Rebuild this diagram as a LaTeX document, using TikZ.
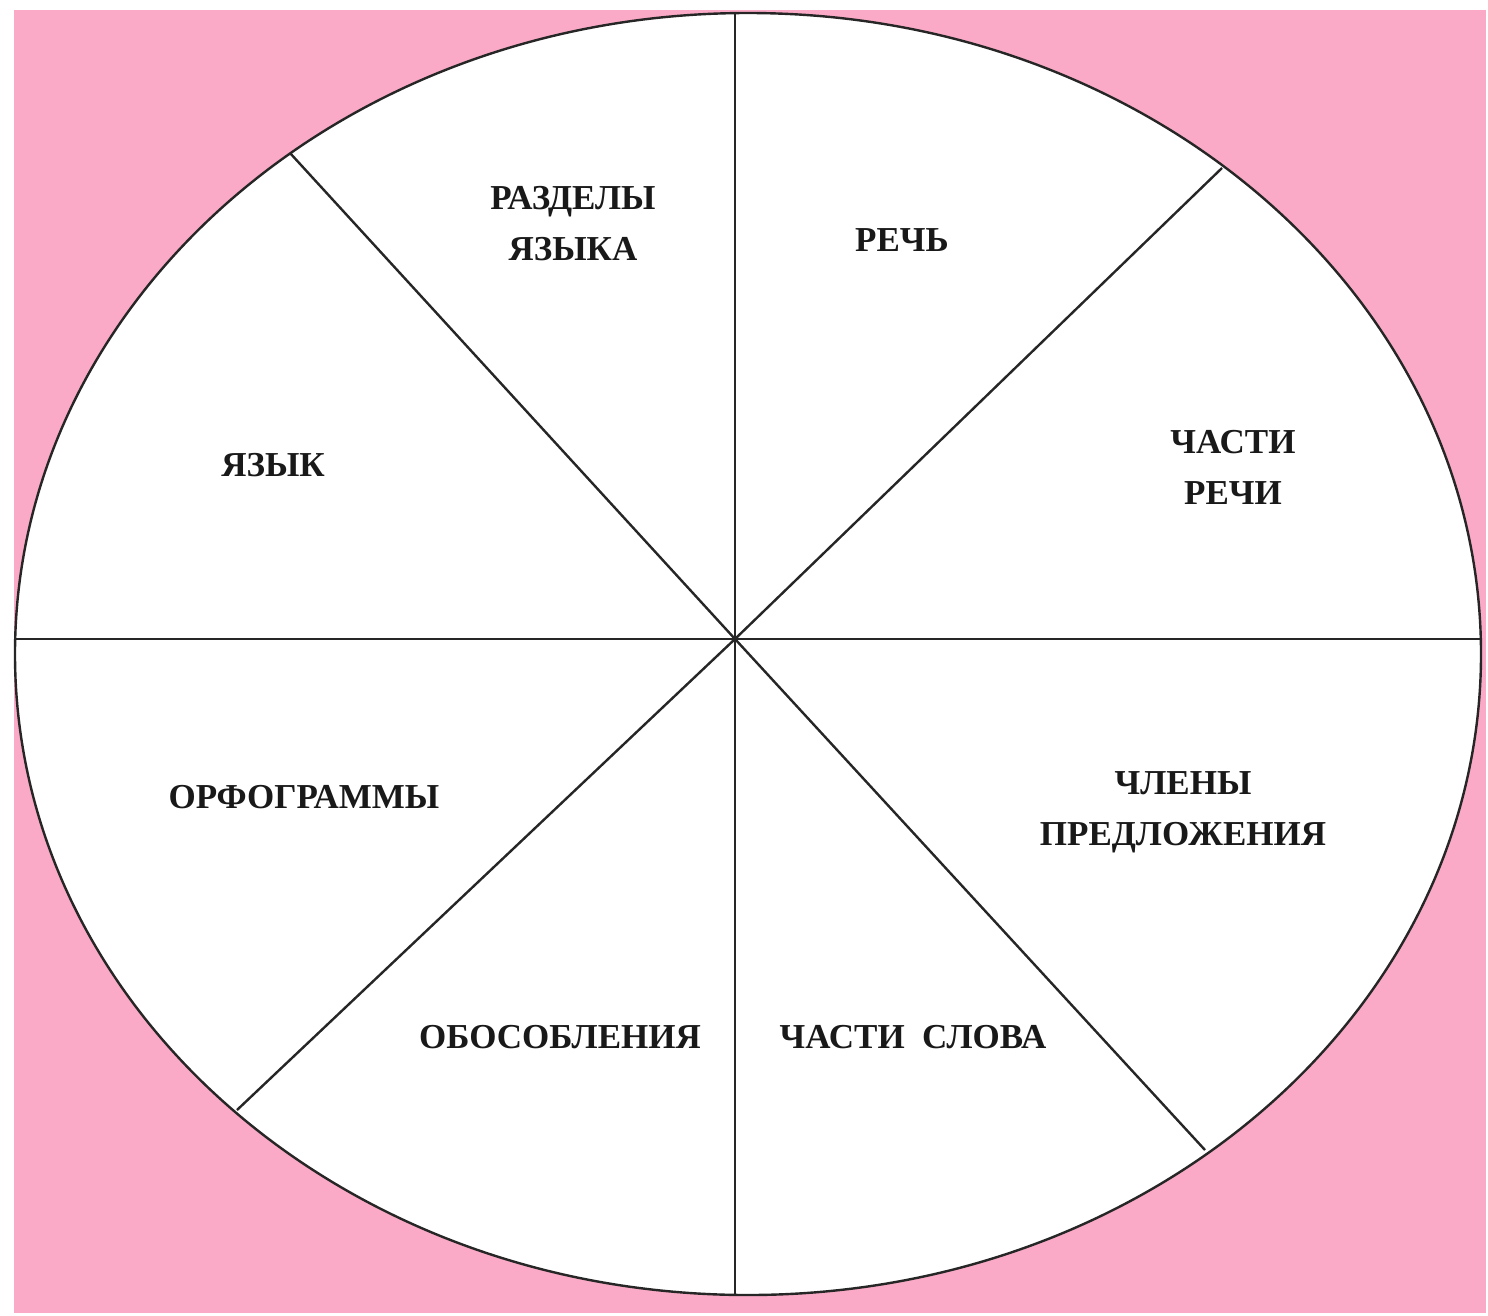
\documentclass[tikz,border=0pt]{standalone}
\usepackage{fontspec}
\setmainfont{Liberation Serif}
\definecolor{bgpink}{RGB}{250,170,198}
\begin{document}
\begin{tikzpicture}[x=1pt,y=-1pt,
  sectorline/.style={draw=black!85,line width=2.4pt},
  lbl/.style={font=\bfseries\fontsize{35}{51}\selectfont,align=center,text=black!90,inner sep=0pt}]
\useasboundingbox (0,0) rectangle (1488,1315);
\fill[white] (0,0) rectangle (1488,1315);
\fill[bgpink] (14,10) rectangle (1486,1313);
\fill[white,draw=black!85,line width=2.4pt] (748,654) ellipse [x radius=733,y radius=641];
% named coordinates
\coordinate (c) at (735,639);
\coordinate (top) at (735,13);
\coordinate (bot) at (735,1295);
\coordinate (lft) at (15,639);
\coordinate (rgt) at (1481,639);
\coordinate (ul) at (290,153);
\coordinate (lr) at (1205,1150);
\coordinate (ur) at (1222,168);
\coordinate (ll) at (237,1110);
\draw[sectorline] (top) -- (c) -- (bot);
\draw[sectorline] (lft) -- (c) -- (rgt);
\draw[sectorline] (ul) -- (c) -- (lr);
\draw[sectorline] (ur) -- (c) -- (ll);
% labels
\node[lbl] (razd) at (573,224) {РАЗДЕЛЫ\\ЯЗЫКА};
\node[lbl] (rech) at (902,240) {РЕЧЬ};
\node[lbl] (chr) at (1233,467) {ЧАСТИ\\РЕЧИ};
\node[lbl] (yaz) at (273,465) {ЯЗЫК};
\node[lbl] (orf) at (304,797) {ОРФОГРАММЫ};
\node[lbl] (chl) at (1183,812) {ЧЛЕНЫ\\ПРЕДЛОЖЕНИЯ};
\node[lbl] (obo) at (560,1037) {ОБОСОБЛЕНИЯ};
\node[lbl] (chs) at (913,1037) {ЧАСТИ\ \ СЛОВА};
\end{tikzpicture}
\end{document}
